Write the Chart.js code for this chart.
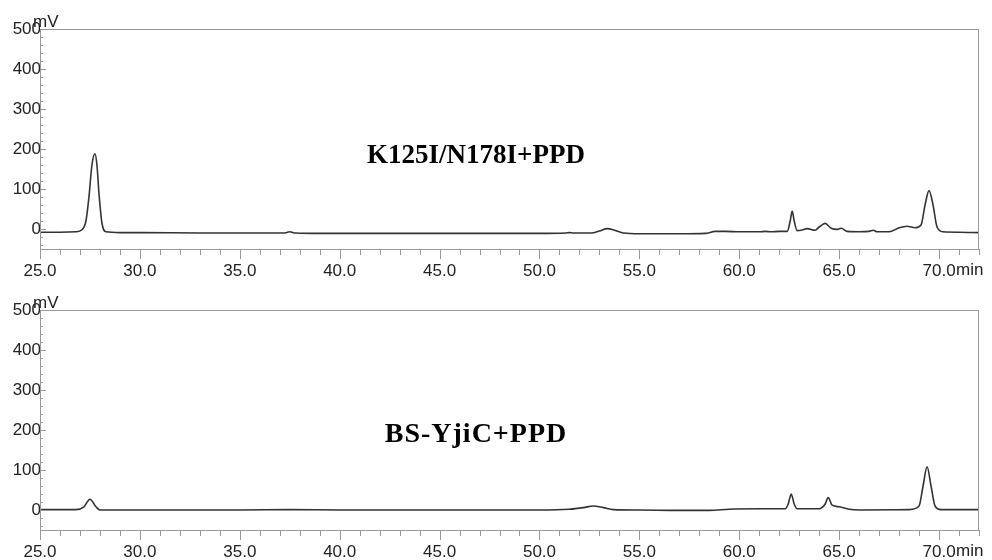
<!DOCTYPE html>
<html>
<head>
<meta charset="utf-8">
<script src="https://cdn.jsdelivr.net/npm/chart.js@4.4.1/dist/chart.umd.min.js"></script>
<style>
    html, body { margin: 0; padding: 0; background: #fff; overflow: hidden; }
    .panel { position: absolute; left: 0; width: 992px; height: 280px; }
</style>
</head>
<body>
<div class="panel" style="top:0"><canvas id="topChart"></canvas></div>
<div class="panel" style="top:281px"><canvas id="bottomChart"></canvas></div>
<script>
// --- data (retention time in min, signal in mV) ---
const xTicks = [25, 30, 35, 40, 45, 50, 55, 60, 65, 70];
const yTicks = [0, 100, 200, 300, 400, 500];

const mutantTitle = 'K125I/N178I+PPD';
const mutantTime = [25.0, 26.0, 26.8, 27.1, 27.3, 27.45, 27.6, 27.75, 27.85, 27.95, 28.1, 28.3, 29.0, 30.0,
    33.0, 36.0, 37.2, 37.5, 37.8, 39.0, 42.0, 45.0, 48.0, 50.0, 51.3, 51.5, 51.7, 52.6, 53.0, 53.4, 53.8,
    54.2, 55.0, 57.0, 58.3, 58.8, 59.3, 60.0, 61.0, 61.3, 61.6, 62.0, 62.4, 62.55, 62.65, 62.75, 62.9,
    63.1, 63.4, 63.8, 64.0, 64.3, 64.6, 64.9, 65.1, 65.4, 66.0, 66.5, 66.7, 66.9, 67.5, 68.0, 68.4, 68.8,
    69.1, 69.3, 69.5, 69.7, 69.9, 70.2, 71.0, 72.0];
const mutantSignal = [-8, -8, -7, -2, 20, 80, 160, 188, 160, 90, 15, -7, -9, -9,
    -10, -10, -10, -7, -10, -11, -11, -11, -11, -11, -10, -9, -10, -10, -5, 1, -4,
    -10, -12, -12, -11, -6, -6, -7, -7, -6, -7, -6, -6, 20, 45, 20, -4,
    -3, 1, -3, 5, 14, 2, -1, 2, -6, -7, -6, -3, -7, -7, 3, 7, 3,
    10, 60, 96, 60, 5, -7, -8, -9];

const wildTitle = 'BS-YjiC+PPD';
const wildTime = [25.0, 26.0, 26.8, 27.2, 27.5, 27.8, 28.0, 30.0, 35.0, 37.5, 40.0, 45.0, 50.0, 51.5,
    52.2, 52.7, 53.2, 53.7, 55.0, 57.0, 58.5, 59.5, 61.0, 62.3, 62.45, 62.6, 62.75, 62.9, 64.0, 64.3,
    64.45, 64.65, 65.0, 65.5, 66.0, 68.5, 69.0, 69.2, 69.4, 69.6, 69.8, 70.1, 72.0];
const wildSignal = [1, 1, 1, 8, 27, 8, 0, 0, 0, 1, 0, 0, 0, 2,
    6, 10, 6, 1, 0, -1, -1, 2, 3, 3, 15, 40, 15, 3, 3, 15,
    31, 12, 8, 2, 0, 1, 10, 60, 108, 60, 10, 1, 1];

// frame, minor ticks and unit labels drawn against the chart's own scales
const framePlugin = {
    id: 'frame',
    afterDraw(chart) {
        const { ctx, chartArea: a, scales: { x, y } } = chart;
        const opts = chart.options.plugins.frame;
        ctx.save();
        ctx.strokeStyle = '#9a9a9a';
        ctx.lineWidth = 1;
        ctx.strokeRect(a.left + 0.5, a.top + 0.5, a.right - a.left - 1, a.bottom - a.top);

        ctx.beginPath();
        for (let v = x.min; v <= x.max; v += 1) {
            const px = Math.round(x.getPixelForValue(v)) + 0.5;
            const len = v % 5 === 0 ? 10 : 6;
            ctx.moveTo(px, a.bottom);
            ctx.lineTo(px, a.bottom + len);
        }
        for (let v = 500; v >= y.min; v -= 20) {
            const py = Math.round(y.getPixelForValue(v)) + 0.5;
            const len = v % 100 === 0 ? 6 : 3;
            ctx.moveTo(a.left, py);
            ctx.lineTo(a.left + len, py);
        }
        ctx.stroke();

        ctx.fillStyle = '#222';
        ctx.font = '17px "Liberation Sans", Arial, sans-serif';
        ctx.textBaseline = 'alphabetic';
        ctx.textAlign = 'left';
        ctx.fillText('mV', a.left - 7, a.top - 2);
        ctx.fillText('min', x.getPixelForValue(70) + 17, a.bottom + 26);

        ctx.fillStyle = '#000';
        ctx.font = 'bold ' + opts.size + 'px "Liberation Serif", "Times New Roman", serif';
        ctx.letterSpacing = opts.spacing;
        ctx.textAlign = 'center';
        ctx.fillText(opts.title, 476, a.top + opts.baseline);
        ctx.restore();
    }
};

function makeChart(id, title, times, signal, titleStyle) {
    const ctx = document.getElementById(id).getContext('2d');
    const points = times.map((t, i) => ({ x: t, y: signal[i] }));
    return new Chart(ctx, {
        type: 'line',
        data: {
            datasets: [{
                data: points,
                borderColor: '#333',
                borderWidth: 1.6,
                pointRadius: 0,
                fill: false,
                cubicInterpolationMode: 'monotone'
            }]
        },
        options: {
            responsive: true,
            maintainAspectRatio: false,
            animation: false,
            layout: { padding: { top: 29, right: 13, left: 0, bottom: 0 } },
            scales: {
                x: {
                    type: 'linear',
                    min: 25,
                    max: 72,
                    afterBuildTicks: s => { s.ticks = xTicks.map(v => ({ value: v })); },
                    afterFit: s => { s.height = 31; },
                    border: { display: false },
                    grid: { display: false, drawTicks: false },
                    ticks: {
                        padding: 12,
                        maxRotation: 0,
                        autoSkip: false,
                        color: '#222',
                        font: { family: "'Liberation Sans', Arial, sans-serif", size: 17 },
                        callback: v => v.toFixed(1)
                    }
                },
                y: {
                    min: -50,
                    max: 500,
                    afterBuildTicks: s => { s.ticks = yTicks.map(v => ({ value: v })); },
                    afterFit: s => { s.width = 40; },
                    border: { display: false },
                    grid: { display: false, drawTicks: false },
                    ticks: {
                        padding: -1,
                        color: '#222',
                        font: { family: "'Liberation Sans', Arial, sans-serif", size: 17 },
                        callback: v => String(v)
                    }
                }
            },
            plugins: {
                legend: { display: false },
                tooltip: { enabled: false },
                frame: Object.assign({ title: title }, titleStyle)
            }
        },
        plugins: [framePlugin]
    });
}

makeChart('topChart', mutantTitle, mutantTime, mutantSignal, { size: 27, spacing: '0px', baseline: 134 });
makeChart('bottomChart', wildTitle, wildTime, wildSignal, { size: 28, spacing: '1px', baseline: 132 });
</script>
</body>
</html>
